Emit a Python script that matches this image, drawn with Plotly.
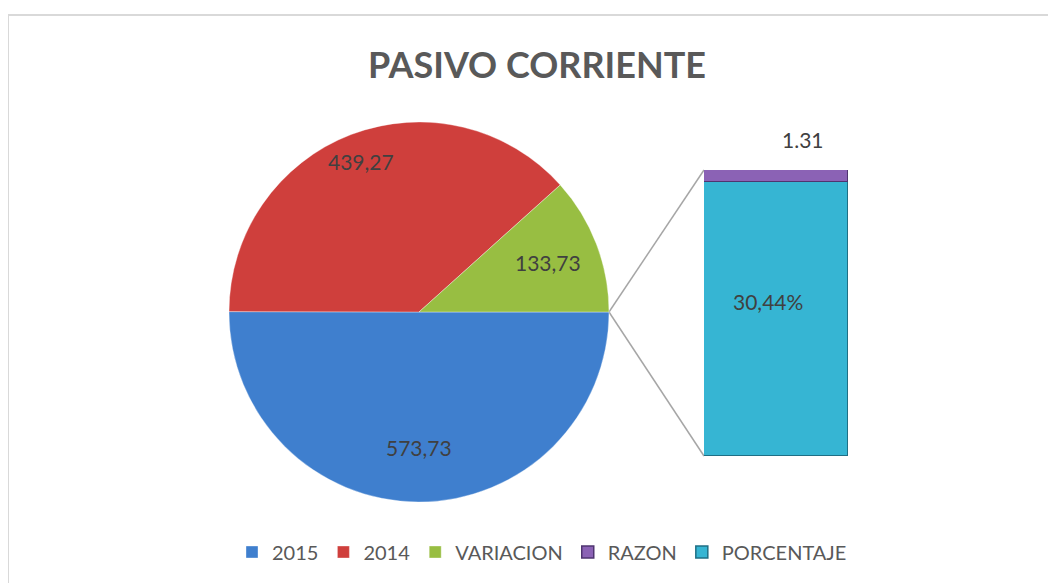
import math
import plotly.graph_objects as go

# ---- data ----
pie_labels = ["2015", "2014", "VARIACION"]
pie_values = [573.73, 439.27, 133.73]
pie_text = ["573,73", "439,27", "133,73"]
pie_colors = ["#3F7FCE", "#CF3F3C", "#98BE42"]

bar_category = ["Otro"]
razon_value = [1.31]
razon_text = ["1.31"]
porcentaje_value = [30.44]
porcentaje_text = ["30,44%"]
razon_color = "#8B62B5"
porcentaje_color = "#36B5D3"

title_text = "PASIVO CORRIENTE"

# ---- layout parameters (pixels) ----
W, H = 1056, 583
OX, OY = 8, 8  # page body offset
pie_cx, pie_cy, pie_r = 419, 312, 190
bar_x0, bar_x1, bar_y0, bar_y1 = 704, 848, 170, 456
pie_label_radius = [0.715, 0.85, 0.73]  # label distance from centre, fraction of radius
label_font = dict(size=21, color="#404040", family="Lato")


def fx(x):
    return (x - OX) / W


def fy(y):
    return (H - (y - OY)) / H


fig = go.Figure()

fig.add_trace(go.Pie(
    labels=pie_labels, values=pie_values,
    textinfo="none",
    marker=dict(colors=pie_colors, line=dict(color="rgba(255,255,255,0.35)", width=1)),
    sort=False, direction="clockwise", rotation=90,
    domain=dict(x=[fx(pie_cx - pie_r), fx(pie_cx + pie_r)],
                y=[fy(pie_cy + pie_r), fy(pie_cy - pie_r)]),
    legendrank=1, hoverinfo="label+value",
))

# pie labels placed at slice mid-angles
tot = sum(pie_values)
start = 0.0  # degrees, clockwise from 3 o'clock (same as rotation=90)
for v, t, fr in zip(pie_values, pie_text, pie_label_radius):
    span = v / tot * 360
    mid = math.radians(start + span / 2)
    rr = fr * pie_r
    lx = pie_cx + rr * math.cos(mid)
    ly = pie_cy + rr * math.sin(mid)
    fig.add_annotation(x=fx(lx), y=fy(ly), xref="paper", yref="paper", text=t,
                       xanchor="center", yanchor="middle",
                       showarrow=False, font=label_font)
    start += span

fig.add_trace(go.Bar(
    x=bar_category, y=porcentaje_value, name="PORCENTAJE",
    marker=dict(color=porcentaje_color, line=dict(color="#1F6F85", width=1.5)),
    legendrank=3, hoverinfo="name+y",
))
fig.add_trace(go.Bar(
    x=bar_category, y=razon_value, name="RAZON",
    marker=dict(color=razon_color, line=dict(color="#4F3470", width=1.5)),
    legendrank=2, hoverinfo="name+y",
))

total = razon_value[0] + porcentaje_value[0]

fig.add_annotation(x=bar_category[0], y=porcentaje_value[0] * 0.565, xref="x", yref="y",
                   text=porcentaje_text[0], showarrow=False, xshift=-8,
                   xanchor="center", yanchor="middle", font=label_font)
fig.add_annotation(x=bar_category[0], y=total, xref="x", yref="y",
                   text=razon_text[0], showarrow=False, yshift=30, xshift=27,
                   xanchor="center", yanchor="middle", font=label_font)

# connector lines from pie edge to bar
fig.add_shape(type="line", xref="paper", yref="paper",
              x0=fx(pie_cx + pie_r), y0=fy(pie_cy), x1=fx(bar_x0), y1=fy(bar_y0),
              line=dict(color="#A6A6A6", width=1.5), layer="below")
fig.add_shape(type="line", xref="paper", yref="paper",
              x0=fx(pie_cx + pie_r), y0=fy(pie_cy), x1=fx(bar_x0), y1=fy(bar_y1),
              line=dict(color="#A6A6A6", width=1.5), layer="below")
# chart border
fig.add_shape(type="rect", xref="paper", yref="paper",
              x0=fx(8), y0=-0.05, x1=1.05, y1=fy(15),
              line=dict(color="#D9D9D9", width=2), layer="below")

fig.update_layout(
    width=W, height=H, autosize=False,
    margin=dict(l=0, r=0, t=0, b=0),
    paper_bgcolor="white", plot_bgcolor="rgba(0,0,0,0)",
    barmode="stack", bargap=0,
    title=dict(text="<b>" + title_text + "</b>", x=fx(537), xanchor="center",
               y=fy(65), yanchor="middle",
               font=dict(size=36, color="#595959", family="Lato")),
    xaxis=dict(domain=[fx(bar_x0), fx(bar_x1)], visible=False, fixedrange=True),
    yaxis=dict(domain=[fy(bar_y1), fy(bar_y0)], range=[0, total],
               visible=False, fixedrange=True),
    showlegend=True,
    legend=dict(orientation="h", x=fx(542), xanchor="center", y=fy(552),
                yanchor="middle", font=dict(size=20, color="#595959", family="Lato"),
                traceorder="normal", itemwidth=30),
)

fig.write_html("out.html")
